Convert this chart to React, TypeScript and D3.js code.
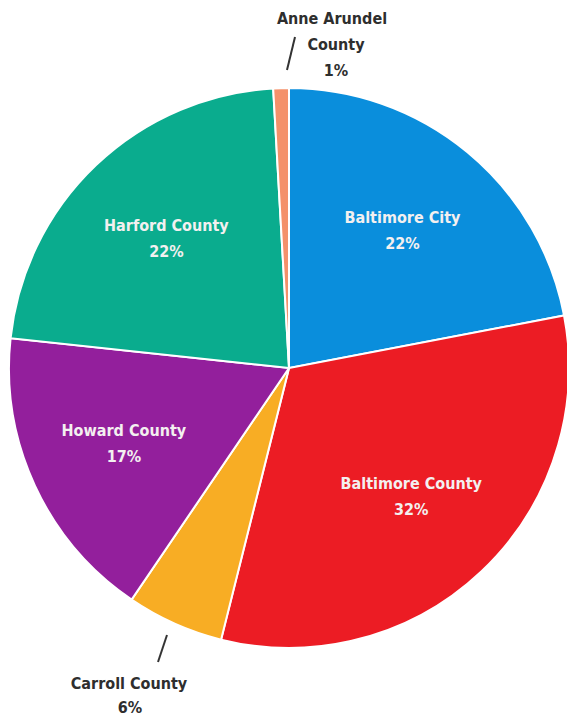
import React from "react";
import * as d3 from "d3";

const regions = ["Baltimore City", "Baltimore County", "Carroll County", "Howard County", "Harford County", "Anne Arundel County"];
const shares = [22, 31.9, 5.6, 17.2, 22.4, 0.9];
const shareLabels = ["22%", "32%", "6%", "17%", "22%", "1%"];
const colors = ["#0a8edc", "#ec1c24", "#f8ad24", "#931f9c", "#0aac8e", "#f4916a"];

const W = 567, H = 719;
const cx = 289, cy = 368, R = 280;

export default function App() {
  const pie = d3.pie<number>().sort(null).value((d) => d)(shares);
  const arc = d3.arc<d3.PieArcDatum<number>>().innerRadius(0).outerRadius(R);
  const inside = [true, true, false, true, true, false];
  const labelR = [178, 178, 0, 182, 178, 0];
  const font = "'DejaVu Sans Condensed', 'DejaVu Sans', sans-serif";
  return (
    <svg width={W} height={H} style={{ position: "absolute", left: 0, top: 0, background: "#fff" }}>
      <g transform={`translate(${cx},${cy})`}>
        {pie.map((p, i) => (
          <path key={i} d={arc(p) || ""} fill={colors[i]} stroke="#fff" strokeWidth={2} />
        ))}
        {pie.map((p, i) => {
          if (!inside[i]) return null;
          const a = (p.startAngle + p.endAngle) / 2;
          const r = labelR[i];
          const x = Math.sin(a) * r, y = -Math.cos(a) * r;
          return (
            <text key={i} textAnchor="middle" fill="#f3f0f0" fontFamily={font} fontWeight="bold" fontSize={16}>
              <tspan x={x} y={y - 8}>{regions[i]}</tspan>
              <tspan x={x} y={y + 18}>{shareLabels[i]}</tspan>
            </text>
          );
        })}
      </g>
      <line x1={287} y1={70} x2={295} y2={37} stroke="#333" strokeWidth={2} />
      <text textAnchor="middle" fill="#2e2e2e" fontFamily={font} fontWeight="bold" fontSize={16}>
        <tspan x={332} y={24}>Anne Arundel</tspan>
        <tspan x={336} y={50}>County</tspan>
        <tspan x={336} y={76}>{shareLabels[5]}</tspan>
      </text>
      <line x1={158} y1={662} x2={167} y2={635} stroke="#333" strokeWidth={2} />
      <text textAnchor="middle" fill="#2e2e2e" fontFamily={font} fontWeight="bold" fontSize={16}>
        <tspan x={129} y={689}>{regions[2]}</tspan>
        <tspan x={130} y={713}>{shareLabels[2]}</tspan>
      </text>
    </svg>
  );
}
